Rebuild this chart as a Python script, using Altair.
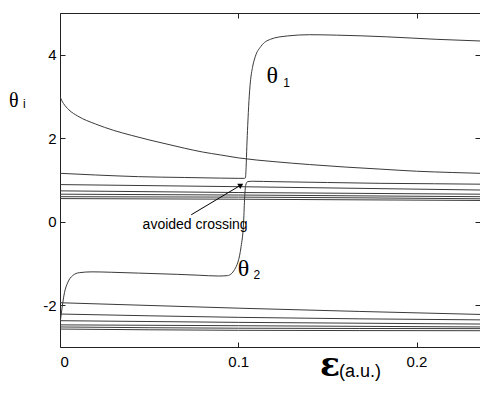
import altair as alt
import pandas as pd

# ---------------- data ----------------
X_DOMAIN = [0, 0.2356]
Y_DOMAIN = [-3, 5]
X_TICKS = [0, 0.1, 0.2]
Y_TICKS = [-2, 0, 2, 4]

# top decreasing curve (starts at 3)
eps_top = [0, 0.001, 0.002, 0.005, 0.01, 0.02, 0.03, 0.04, 0.05, 0.06, 0.07, 0.08, 0.09,
           0.1, 0.12, 0.14, 0.16, 0.18, 0.2, 0.22, 0.2356]
theta_top = [3.0, 2.90, 2.83, 2.68, 2.53, 2.34, 2.19, 2.07, 1.96, 1.86, 1.76, 1.67, 1.60,
             1.53, 1.44, 1.37, 1.31, 1.26, 1.21, 1.18, 1.16]

# theta_1 branch (flat ~1.1, then jumps up at avoided crossing)
eps_1 = [0, 0.02, 0.044, 0.07, 0.09, 0.1, 0.1036, 0.1040, 0.1044, 0.1048, 0.1053, 0.1060,
         0.1068, 0.1080, 0.1095, 0.1127, 0.118, 0.1275, 0.14, 0.155, 0.183, 0.211, 0.2356]
theta_1 = [1.16, 1.12, 1.08, 1.06, 1.045, 1.04, 1.04, 1.05, 1.3, 1.8, 2.3, 2.9,
           3.35, 3.7, 3.95, 4.2, 4.37, 4.45, 4.48, 4.47, 4.43, 4.37, 4.33]

# theta_2 branch (rises from bottom, plateau, jumps at avoided crossing)
eps_2 = [0, 0.0007, 0.0025, 0.0043, 0.0071, 0.0108, 0.018, 0.029, 0.044, 0.066, 0.0775,
         0.089, 0.094, 0.098, 0.1016, 0.1030, 0.1036, 0.1042, 0.1052, 0.108, 0.12, 0.15,
         0.18, 0.21, 0.2356]
theta_2 = [-2.45, -2.21, -1.70, -1.46, -1.29, -1.22, -1.20, -1.21, -1.23, -1.26, -1.28,
           -1.30, -1.29, -1.14, -0.59, 0.0, 0.6, 0.88, 0.96, 0.97, 0.96, 0.94,
           0.92, 0.91, 0.90]

# nearly flat levels
eps_flat = [0, 0.1, 0.2356]
upper_levels = [
    [0.89, 0.84, 0.76],
    [0.74, 0.70, 0.66],
    [0.66, 0.64, 0.60],
    [0.60, 0.59, 0.55],
    [0.555, 0.54, 0.51],
]
lower_levels = [
    [-1.94, -2.07, -2.22],
    [-2.21, -2.29, -2.35],
    [-2.37, -2.41, -2.45],
    [-2.47, -2.49, -2.52],
    [-2.52, -2.55, -2.56],
    [-2.57, -2.60, -2.61],
]

rows = []


def add(name, xv, yv):
    for a, b in zip(xv, yv):
        rows.append({"curve": name, "eps": a, "theta": b})


add("top", eps_top, theta_top)
add("theta1", eps_1, theta_1)
add("theta2", eps_2, theta_2)
for i, lv in enumerate(upper_levels):
    add(f"u{i}", eps_flat, lv)
for i, lv in enumerate(lower_levels):
    add(f"l{i}", eps_flat, lv)
df = pd.DataFrame(rows)

# arrow for "avoided crossing"
arrow_df = pd.DataFrame([{"x0": 0.0736, "y0": 0.167, "x1": 0.1011, "y1": 0.869}])
ARROW_HEAD = (0.1011, 0.869)

# ---------------- chart ----------------
xs = alt.Scale(domain=X_DOMAIN, nice=False, zero=False)
ys = alt.Scale(domain=Y_DOMAIN, nice=False, zero=False)

common_axis = dict(offset=-5, tickSize=5, domain=False, grid=False, title=None,
                   labelFontSize=15, labelFont="Liberation Sans", labelColor="black",
                   tickColor="#222", tickWidth=1)

bottom_axis = alt.Axis(orient="bottom", values=X_TICKS, labelExpr="datum.value + ''",
                       labelPadding=7, **common_axis)
left_axis = alt.Axis(orient="left", values=Y_TICKS, labelExpr="datum.value + ''",
                     labelPadding=4, **common_axis)
top_axis = alt.Axis(orient="top", values=X_TICKS, labels=False, **common_axis)
right_axis = alt.Axis(orient="right", values=Y_TICKS, labels=False, **common_axis)

lines = alt.Chart(df).mark_line(interpolate="monotone", color="#3a3a3a",
                                strokeWidth=1, clip=True).encode(
    x=alt.X("eps:Q", scale=xs, axis=bottom_axis),
    y=alt.Y("theta:Q", scale=ys, axis=left_axis),
    detail="curve:N",
)

arrow = alt.Chart(arrow_df).mark_rule(color="black", strokeWidth=1).encode(
    x=alt.X("x0:Q", scale=xs, axis=top_axis),
    y=alt.Y("y0:Q", scale=ys, axis=right_axis),
    x2="x1:Q",
    y2="y1:Q",
)

one = alt.Data(values=[{}])

head = alt.Chart(one).mark_point(shape="triangle", filled=True, color="black",
                                 size=35, angle=59, opacity=1).encode(
    x=alt.X(datum=ARROW_HEAD[0], scale=xs, axis=None),
    y=alt.Y(datum=ARROW_HEAD[1], scale=ys, axis=None),
)


def label(txt, x, y, size, font="Liberation Sans", align="left", weight="normal"):
    return alt.Chart(one).mark_text(text=txt, fontSize=size, font=font, align=align,
                                    baseline="alphabetic", fontWeight=weight,
                                    color="black").encode(
        x=alt.X(datum=x, scale=xs, axis=None),
        y=alt.Y(datum=y, scale=ys, axis=None),
    )


texts = [
    label("avoided crossing", 0.0758, -0.167, 14, align="center"),
    label("θ", 0.1158, 3.333, 24, font="Liberation Serif"),
    label("1", 0.1253, 3.238, 12),
    label("θ", 0.0997, -1.31, 24, font="Liberation Serif"),
    label("2", 0.1086, -1.38, 12),
    label("θ", -0.0286, 2.738, 20, font="Liberation Serif"),
    label("i", -0.0208, 2.714, 12),
    label("ε", 0.1458, -3.69, 33, font="DejaVu Serif", weight="bold"),
    label("(a.u.)", 0.1565, -3.71, 18),
]

chart = alt.layer(lines, arrow, head, *texts).resolve_axis(
    x="independent", y="independent"
).properties(
    width=420, height=334, autosize="none", background="white",
    padding={"left": 52, "top": 5, "right": 0, "bottom": 38},
).configure_view(stroke="#222", strokeWidth=1)

chart.save("out.html", embed_options={"renderer": "svg", "actions": False})
